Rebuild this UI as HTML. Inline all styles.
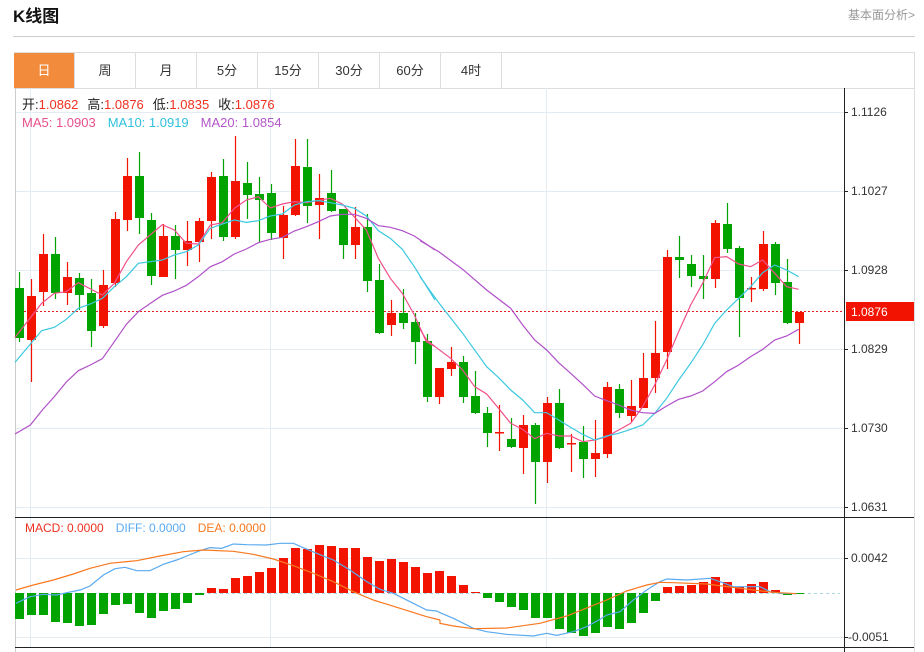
<!DOCTYPE html>
<html><head><meta charset="utf-8"><style>
html,body{margin:0;padding:0;background:#fff;width:924px;height:652px;overflow:hidden;font-family:"Liberation Sans","Noto Sans CJK SC",sans-serif}
</style></head><body>
<svg id="s" width="924" height="652" xmlns="http://www.w3.org/2000/svg" style="position:absolute;left:0;top:0;font-family:'Liberation Sans','Noto Sans CJK SC',sans-serif">
<text x="13" y="22" font-size="17" font-weight="bold" fill="#111">K线图</text>
<text x="915" y="19" font-size="12" fill="#999" text-anchor="end">基本面分析&gt;</text>
<line x1="13" y1="36.5" x2="915" y2="36.5" stroke="#ccc"/>
<rect x="14.5" y="52.5" width="900" height="36" fill="#fff" stroke="#ddd"/>
<rect x="14" y="53" width="60" height="35" fill="#f28c3c"/>
<g stroke="#ddd"><line x1="74.5" y1="53" x2="74.5" y2="88"/><line x1="135.5" y1="53" x2="135.5" y2="88"/><line x1="196.5" y1="53" x2="196.5" y2="88"/><line x1="257.5" y1="53" x2="257.5" y2="88"/><line x1="318.5" y1="53" x2="318.5" y2="88"/><line x1="379.5" y1="53" x2="379.5" y2="88"/><line x1="440.5" y1="53" x2="440.5" y2="88"/><line x1="501.5" y1="53" x2="501.5" y2="88"/></g>
<g font-size="13" text-anchor="middle" fill="#333"><text x="44" y="75" fill="#fff">日</text><text x="105" y="75">周</text><text x="166" y="75">月</text><text x="227" y="75">5分</text><text x="288" y="75">15分</text><text x="349" y="75">30分</text><text x="410" y="75">60分</text><text x="471" y="75">4时</text></g>
<line x1="914.5" y1="88" x2="914.5" y2="652" stroke="#ddd"/>
<line x1="15.5" y1="88" x2="15.5" y2="652" stroke="#ccc"/>
<g stroke="#e3ebf3"><line x1="16" y1="112.5" x2="844" y2="112.5"/><line x1="16" y1="191.5" x2="844" y2="191.5"/><line x1="16" y1="270.5" x2="844" y2="270.5"/><line x1="16" y1="349.5" x2="844" y2="349.5"/><line x1="16" y1="428.5" x2="844" y2="428.5"/><line x1="16" y1="507.5" x2="844" y2="507.5"/>
<line x1="30.5" y1="88" x2="30.5" y2="648"/><line x1="270.5" y1="88" x2="270.5" y2="648"/><line x1="546.5" y1="88" x2="546.5" y2="648"/>
<line x1="16" y1="558.5" x2="844" y2="558.5"/><line x1="16" y1="637.5" x2="844" y2="637.5"/></g>
<line x1="844.5" y1="88" x2="844.5" y2="652" stroke="#222"/>
<line x1="15" y1="517.5" x2="914" y2="517.5" stroke="#222"/>
<line x1="15" y1="647.5" x2="914" y2="647.5" stroke="#222"/>
<g font-size="12" fill="#333"><text x="851" y="116">1.1126</text><text x="851" y="195">1.1027</text><text x="851" y="274">1.0928</text><text x="851" y="353">1.0829</text><text x="851" y="432">1.0730</text><text x="851" y="511">1.0631</text><text x="851" y="562">0.0042</text><text x="848" y="641">-0.0051</text></g>
<g stroke="#222"><line x1="844" y1="112.5" x2="848" y2="112.5"/><line x1="844" y1="191.5" x2="848" y2="191.5"/><line x1="844" y1="270.5" x2="848" y2="270.5"/><line x1="844" y1="349.5" x2="848" y2="349.5"/><line x1="844" y1="428.5" x2="848" y2="428.5"/><line x1="844" y1="507.5" x2="848" y2="507.5"/><line x1="844" y1="558.5" x2="848" y2="558.5"/><line x1="844" y1="637.5" x2="848" y2="637.5"/></g>
<line x1="16" y1="311.5" x2="844" y2="311.5" stroke="#e02020" stroke-dasharray="2,2"/>
<rect x="846" y="302" width="68" height="19" fill="#f21400"/>
<text x="851" y="316" font-size="12" fill="#fff">1.0876</text>
<line x1="16" y1="593.5" x2="840" y2="593.5" stroke="#a8d8e8" stroke-dasharray="3,3"/>
<g id="c"></g>
<g fill="none" stroke-width="1.2">
<g transform="translate(15,130) scale(0.33333)">
<polyline stroke="#f0508a" stroke-width="3.6" points="0,622 80,520 118,490 154,485 190,458 262,495 298,460 334,395 370,345 442,284 478,300 514,340 550,342 586,285 622,278 658,235 694,210 730,200 766,234 802,222 838,215 874,218 946,205 982,222 1054,300 1090,385 1126,445 1162,490 1198,555 1234,635 1260,650"/>
<polyline stroke="#3cc8e0" stroke-width="3.6" points="0,697 80,602 118,592 154,568 190,535 226,522 262,505 298,470 334,440 370,400 442,390 478,375 514,365 550,345 586,295 622,282 658,270 694,277 730,272 766,258 802,252 838,225 874,215 910,212 946,218 982,225 1018,235 1054,258 1090,302 1126,325 1162,358 1198,410 1260,510"/>
<polyline stroke="#b050c8" stroke-width="3.6" points="0,912 46,885 82,840 118,800 154,756 190,722 226,705 262,686 298,635 334,583 370,545 406,520 442,496 478,483 514,466 550,440 586,410 622,395 658,372 694,357 730,338 766,328 802,322 838,303 874,290 910,275 946,258 982,253 1018,253 1054,265 1090,287 1126,292 1162,302 1198,318 1260,360"/>
</g>
<g transform="translate(420,190) scale(0.33333)">
<polyline stroke="#f0508a" stroke-width="3.6" points="0,418 20,450 56,478 92,505 128,540 164,590 200,612 236,655 272,700 308,718 344,746 380,730 416,738 452,738 488,755 524,750 560,740 596,720 632,700 668,650 704,585 740,510 776,425 812,345 848,280 884,203 920,200 956,222 992,230 1028,210 1064,250 1100,290 1136,298"/>
<polyline stroke="#3cc8e0" stroke-width="3.6" points="0,260 56,338 128,430 200,530 236,563 272,600 308,630 344,668 380,668 416,690 452,712 488,733 524,750 560,738 596,730 632,718 668,705 704,670 740,625 776,570 812,520 848,465 884,400 920,360 956,325 992,290 1028,248 1064,225 1100,240 1136,260"/>
<polyline stroke="#b050c8" stroke-width="3.6" points="0,152 56,185 128,238 200,300 272,355 308,405 344,450 380,480 416,518 452,550 488,583 524,618 560,632 596,645 632,660 668,668 704,670 740,648 776,628 812,618 848,603 884,575 920,545 956,525 992,500 1028,478 1064,450 1100,438 1136,418"/>
</g>
<g transform="translate(0,510) scale(0.33333)">
<polyline stroke="#5aaaf0" stroke-width="3.6" points="48,280 90,260 130,253 170,255 200,248 240,240 270,228 310,195 345,176 375,172 410,182 450,182 490,163 530,150 560,138 600,122 630,113 665,115 700,102 740,104 800,105 840,100 880,100 910,113 950,130 1000,150 1050,180 1100,215 1140,238 1180,250 1230,275 1280,300 1310,303 1320,308"/>
<polyline stroke="#f87820" stroke-width="3.6" points="48,240 100,225 160,210 220,192 270,175 330,160 410,152 480,138 550,125 610,120 700,124 760,133 820,147 880,167 940,190 1000,215 1060,245 1120,270 1200,295 1280,320 1320,330"/>
</g>
<g transform="translate(440,510) scale(0.33333)">
<polyline stroke="#5aaaf0" stroke-width="3.6" points="0,308 40,325 100,355 140,365 200,373 280,378 320,370 350,376 400,365 440,350 480,328 500,315 540,305 580,270 620,240 660,215 680,207 740,210 810,205 840,215 880,230 960,230 990,245 1020,250 1070,251"/>
<polyline stroke="#f87820" stroke-width="3.6" points="0,330 0,340 40,348 100,356 200,354 300,340 380,318 450,290 500,270 560,243 620,225 660,217 700,218 800,222 900,235 1000,247 1070,251"/>
</g>
</g>
<text x="22" y="109" font-size="13"><tspan fill="#222">开:</tspan><tspan fill="#f03020">1.0862</tspan><tspan fill="#222" dx="9">高:</tspan><tspan fill="#f03020">1.0876</tspan><tspan fill="#222" dx="9">低:</tspan><tspan fill="#f03020">1.0835</tspan><tspan fill="#222" dx="9">收:</tspan><tspan fill="#f03020">1.0876</tspan></text>
<text x="22" y="127" font-size="13"><tspan fill="#e8508c">MA5: 1.0903</tspan><tspan fill="#30c0dc" dx="12">MA10: 1.0919</tspan><tspan fill="#b257c8" dx="12">MA20: 1.0854</tspan></text>
<text x="25" y="532" font-size="12"><tspan fill="#f03020">MACD: 0.0000</tspan><tspan fill="#5aaaf0" dx="12">DIFF: 0.0000</tspan><tspan fill="#f87820" dx="12">DEA: 0.0000</tspan></text>
</svg>
<script>
var K=[["g",272,288,338,342],["r",279,296,340,382],["r",234,254,292,306],["g",237,254,293,299],["r",262,277,293,305],["g",273,278,295,310],["g",279,293,331,347],["r",270,285,326,328],["r",212,219,283,287],["r",158,176,220,231],["g",152,176,218,234],["g",213,220,276,285],["r",224,236,277,277],["g",225,236,250,279],["r",221,241,250,266],["r",218,221,242,262],["r",172,177,221,239],["g",159,176,237,241],["r",136,181,237,239],["g",162,183,195,219],["g",177,194,200,242],["g",184,193,233,240],["r",206,215,238,259],["r",139,166,215,216],["g",139,167,206,223],["r",174,198,205,239],["g",170,193,211,212],["g",209,209,245,259],["r",207,227,245,259],["g",214,227,281,292],["g",264,280,333,334],["r",300,313,325,336],["g",289,313,323,329],["g",313,322,342,364],["g",334,341,397,402],["r",368,368,397,404],["r",347,362,369,376],["g",356,362,397,403],["g",371,396,413,414],["g",407,413,433,447],["r",405,432,433,451],["g",418,439,447,448],["r",415,425,448,474],["g",423,425,462,504],["r",397,403,462,483],["g",389,403,448,449],["r",434,443,444,472],["g",426,442,459,478],["r",420,453,459,477],["r",382,387,454,458],["g",384,389,413,418],["r",380,406,416,422],["r",353,378,408,408],["r",321,353,378,393],["r",250,257,352,369],["g",236,257,260,278],["g",255,264,276,287],["g",255,276,279,299],["r",220,223,279,288],["g",203,224,249,253],["g",246,248,298,337],["r",277,288,289,302],["r",231,244,289,291],["g",242,244,283,295],["g",259,282,323,324],["r",312,312,323,344]];
var M=[619,615,615,622,623,626,625,614,605,604,613,618,611,609,603,595,588,589,578,576,572,568,558,548,549,545,546,548,548,557,561,559,562,567,573,571,576,585,592,598,602,607,610,618,618,629,633,636,633,627,629,623,613,601,587,586,585,582,577,582,587,584,582,590,595,594];
var h="";
for(var i=0;i<K.length;i++){var k=K[i],x=19+12*i,c=k[0]=="r"?"#f21400":"#00a300";
h+='<line x1="'+(x+.5)+'" y1="'+k[1]+'" x2="'+(x+.5)+'" y2="'+k[4]+'" stroke="'+c+'" stroke-width="1.2"/>';
h+='<rect x="'+(x-4)+'" y="'+k[2]+'" width="9" height="'+Math.max(1.5,k[3]-k[2])+'" fill="'+c+'"/>';}
for(var i=0;i<M.length;i++){var x=19+12*i,v=M[i],c=v<593?"#f21400":"#00a300";var y=Math.min(v,593),hh=Math.max(1,Math.abs(v-593));
h+='<rect x="'+(x-4)+'" y="'+y+'" width="9" height="'+hh+'" fill="'+c+'"/>';}
document.getElementById("c").innerHTML=h;
</script>
</body></html>
